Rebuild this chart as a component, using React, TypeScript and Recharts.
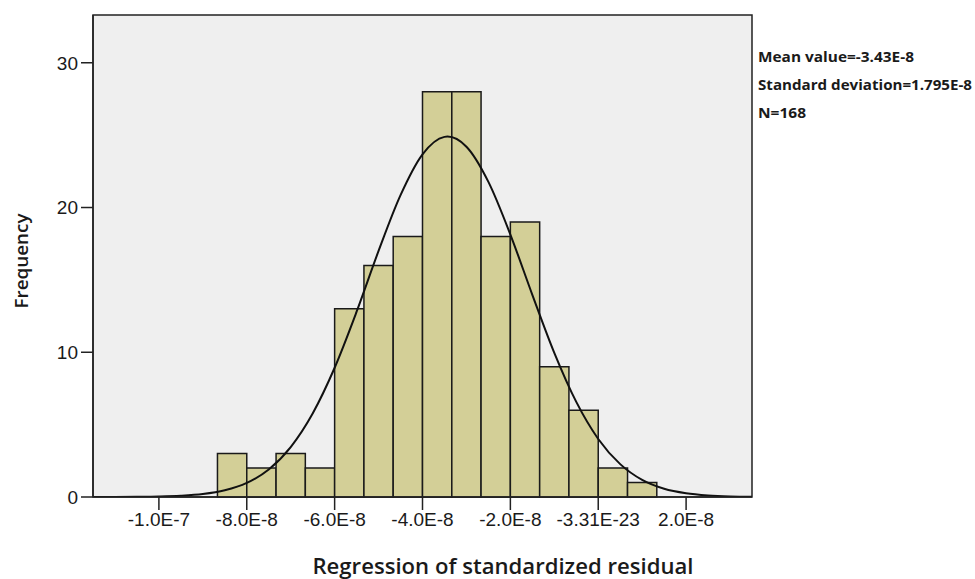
import {
  ComposedChart,
  Line,
  XAxis,
  YAxis,
  ReferenceArea,
} from 'recharts'

// bins of the histogram (units of 1E-8)
const binEdges = [-8.667, -8, -7.333, -6.667, -6, -5.333, -4.667, -4, -3.333, -2.667, -2, -1.333, -0.667, 0, 0.667, 1.333]
const binCounts = [3, 2, 3, 2, 13, 16, 18, 28, 28, 18, 19, 9, 6, 2, 1]

// normal curve
const curveX = [-11.5, -11, -10.5, -10, -9.5, -9, -8.5, -8, -7.5, -7, -6.5, -6, -5.5, -5, -4.5, -4, -3.5, -3.43, -3, -2.5, -2, -1.5, -1, -0.5, 0, 0.5, 1, 1.5, 2, 2.5, 3, 3.5]
const curveY = [0.001, 0.003, 0.011, 0.031, 0.082, 0.2, 0.46, 0.97, 1.9, 3.45, 5.77, 8.93, 12.8, 17, 20.85, 23.67, 24.88, 24.9, 24.2, 21.77, 18.13, 13.97, 9.96, 6.57, 4.01, 2.27, 1.18, 0.57, 0.26, 0.11, 0.04, 0.015]

const xTicks = [-10, -8, -6, -4, -2, 0, 2]
const xTickLabels = ['-1.0E-7', '-8.0E-8', '-6.0E-8', '-4.0E-8', '-2.0E-8', '-3.31E-23', '2.0E-8']
const yTicks = [0, 10, 20, 30]

const statLines = ['Mean value=-3.43E-8', 'Standard deviation=1.795E-8', 'N=168']

const X_MIN = -11.5
const X_MAX = 3.5
const Y_MAX = 33.3

const curveData = curveX.map((x, i) => ({ x, y: curveY[i] }))

const tickFont = { fontSize: 19, fill: '#1a1a1a', fontFamily: 'Liberation Sans, Arial, sans-serif' }

export default function App() {
  return (
    <div style={{ position: 'absolute', left: 0, top: 0, width: 975, height: 579, background: '#fff' }}>
      <ComposedChart
        width={975}
        height={579}
        data={curveData}
        margin={{ top: 15, right: 223, bottom: 0, left: 0 }}
      >
        <XAxis
          type="number"
          dataKey="x"
          domain={[X_MIN, X_MAX]}
          ticks={xTicks}
          allowDataOverflow
          tickFormatter={(v) => xTickLabels[xTicks.indexOf(v)] ?? ''}
          tick={tickFont}
          tickSize={13}
          tickMargin={3}
          height={82}
          axisLine={{ stroke: '#222', strokeWidth: 1.5 }}
          tickLine={{ stroke: '#222', strokeWidth: 1.5 }}
          interval={0}
        />
        <YAxis
          type="number"
          domain={[0, Y_MAX]}
          ticks={yTicks}
          allowDataOverflow
          tick={tickFont}
          tickSize={12}
          tickMargin={3}
          width={93}
          axisLine={{ stroke: '#222', strokeWidth: 1.5 }}
          tickLine={{ stroke: '#222', strokeWidth: 1.5 }}
        />
        <ReferenceArea
          x1={X_MIN}
          x2={X_MAX}
          y1={0}
          y2={Y_MAX}
          fill="#efefef"
          fillOpacity={1}
          stroke="#222"
          strokeWidth={1.5}
        />
        {binCounts.map((c, i) => (
          <ReferenceArea
            key={`bin-${i}`}
            x1={binEdges[i]}
            x2={binEdges[i + 1]}
            y1={0}
            y2={c}
            fill="#d3cf97"
            fillOpacity={1}
            stroke="#1a1a1a"
            strokeWidth={1.5}
          />
        ))}
        <Line
          dataKey="y"
          type="monotone"
          stroke="#111"
          strokeWidth={2}
          dot={false}
          activeDot={false}
          isAnimationActive={false}
        />
      </ComposedChart>

      <svg
        width={975}
        height={579}
        style={{ position: 'absolute', left: 0, top: 0, pointerEvents: 'none' }}
      >
        <text
          x={503}
          y={574}
          textAnchor="middle"
          fontFamily="Open Sans, Noto Sans, sans-serif"
          fontWeight={600}
          fontSize={21}
          fill="#1a1a1a"
          textLength={381}
          lengthAdjust="spacingAndGlyphs"
        >
          Regression of standardized residual
        </text>
        <text
          transform="translate(28, 261) rotate(-90)"
          textAnchor="middle"
          fontFamily="Open Sans, Noto Sans, sans-serif"
          fontWeight={600}
          fontSize={18}
          fill="#1a1a1a"
          textLength={95}
          lengthAdjust="spacingAndGlyphs"
        >
          Frequency
        </text>
        {statLines.map((s, i) => (
          <text
            key={s}
            x={758}
            y={62 + i * 28}
            fontFamily="Liberation Sans Narrow, Open Sans, sans-serif"
            fontWeight="bold"
            fontSize={15}
            fill="#1a1a1a"
            textLength={[156, 214, 48][i]}
            lengthAdjust="spacingAndGlyphs"
          >
            {s}
          </text>
        ))}
      </svg>
    </div>
  )
}
